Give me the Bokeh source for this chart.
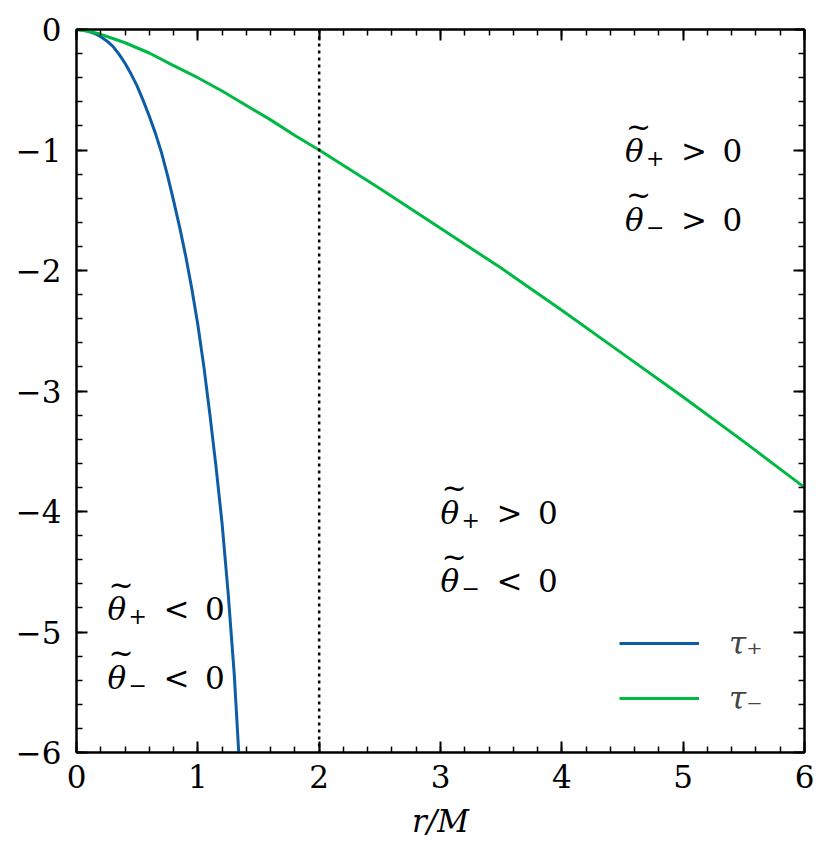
import numpy as np
from bokeh.plotting import figure
from bokeh.models import LinearAxis, FixedTicker, Span, Range1d, ColumnDataSource
from bokeh.core.properties import value
from bokeh.embed import file_html
from bokeh.resources import INLINE

# ---- data ----
r_plus = [0.0, 0.05, 0.1, 0.15, 0.2, 0.25, 0.3, 0.35, 0.4, 0.45, 0.5, 0.55, 0.6, 0.65,
          0.7, 0.75, 0.8, 0.85, 0.9, 0.95, 1.0, 1.05, 1.1, 1.15, 1.2, 1.25, 1.3, 1.34]
tau_plus = [0.0, -0.004, -0.015, -0.033, -0.06, -0.095, -0.14, -0.205, -0.28, -0.37,
            -0.47, -0.59, -0.72, -0.86, -1.02, -1.21, -1.42, -1.64, -1.88, -2.15, -2.45,
            -2.8, -3.2, -3.63, -4.1, -4.68, -5.35, -6.05]

r_minus = [0.0, 0.1, 0.2, 0.3, 0.4, 0.6, 0.8, 1.0, 1.2, 1.4, 1.6, 1.8, 2.0, 2.5, 3.0,
           3.5, 4.0, 4.5, 5.0, 5.5, 6.0]
tau_minus = [0.0, -0.015, -0.04, -0.075, -0.11, -0.195, -0.30, -0.40, -0.51, -0.63, -0.75,
             -0.88, -1.0, -1.32, -1.65, -1.98, -2.33, -2.69, -3.05, -3.42, -3.80]

horizon_r = 2.0

x_ticks = [0, 1, 2, 3, 4, 5, 6]
y_ticks = [-6, -5, -4, -3, -2, -1, 0]
y_tick_labels = {-6: "\u22126", -5: "\u22125", -4: "\u22124", -3: "\u22123",
                 -2: "\u22122", -1: "\u22121", 0: "0"}
minor_step = 0.2

ann_x = [4.52, 4.52, 3.0, 3.0, 0.256, 0.256]
ann_y = [-1.01, -1.58, -4.01, -4.58, -4.81, -5.38]
ann_sym = ["\u03b8"] * 6
ann_tilde = ["~"] * 6
ann_sub = ["+", "\u2212", "+", "\u2212", "+", "\u2212"]
ann_rel = [">\u20020", ">\u20020", ">\u20020", "<\u20020", "<\u20020", "<\u20020"]

legend_labels = ["\u03c4\u208a", "\u03c4\u208b"]

BLUE = "#0C5DA5"
GREEN = "#00B945"
FS = "31px"
FONT = "'DejaVu Serif'"

x_minor = [round(i * minor_step, 2) for i in range(int(6 / minor_step) + 1)]
y_minor = [round(-6 + i * minor_step, 2) for i in range(int(6 / minor_step) + 1)]

p = figure(width=825, height=860, output_backend="svg", toolbar_location=None,
           x_range=Range1d(0, 6), y_range=Range1d(-6, 0),
           min_border_left=76, min_border_right=21, min_border_top=29,
           min_border_bottom=108)
p.grid.visible = False
p.outline_line_color = "black"
p.outline_line_width = 2
p.background_fill_color = "white"
p.border_fill_color = "white"

xb = p.below[0]
yl = p.left[0]
xt = LinearAxis()
yr = LinearAxis()
p.add_layout(xt, "above")
p.add_layout(yr, "right")

for ax in (xb, xt):
    ax.ticker = FixedTicker(ticks=x_ticks, minor_ticks=x_minor)
for ax in (yl, yr):
    ax.ticker = FixedTicker(ticks=y_ticks, minor_ticks=y_minor)

for ax in (xb, xt, yl, yr):
    ax.axis_line_width = 2
    ax.axis_line_color = "black"
    ax.major_tick_in = 11
    ax.major_tick_out = 0
    ax.minor_tick_in = 6
    ax.minor_tick_out = 0
    ax.major_tick_line_width = 2
    ax.minor_tick_line_width = 1.5
    ax.major_label_text_font = FONT
    ax.major_label_text_font_size = FS
    ax.major_label_text_color = "black"

xb.major_label_standoff = 12
yl.major_label_standoff = 15
yl.major_label_overrides = y_tick_labels
xb.axis_label = "r/M"
xb.axis_label_text_font = FONT
xb.axis_label_text_font_size = FS
xb.axis_label_text_font_style = "italic"
xb.axis_label_text_color = "black"
xb.axis_label_standoff = 12

# mirrored axes: ticks only
xt.major_label_overrides = {t: "" for t in x_ticks}
yr.major_label_overrides = {t: "" for t in y_ticks}
xt.major_label_standoff = 0
yr.major_label_standoff = 0

p.line(r_plus, tau_plus, line_color=BLUE, line_width=3, legend_label=legend_labels[0])
p.line(r_minus, tau_minus, line_color=GREEN, line_width=3, legend_label=legend_labels[1])

p.add_layout(Span(location=horizon_r, dimension="height", line_color="black",
                  line_width=2.5, line_dash="3 4"))

src = ColumnDataSource(dict(x=ann_x, y=ann_y, sym=ann_sym, tilde=ann_tilde,
                            sub=ann_sub, rel=ann_rel))
p.text(x="x", y="y", text="sym", source=src, text_font=value(FONT),
       text_font_size=FS, text_font_style="italic", text_baseline="alphabetic",
       text_align="left", text_color="black")
p.text(x="x", y="y", text="tilde", source=src, text_font=value(FONT),
       text_font_size="30px", text_baseline="alphabetic", text_align="left",
       text_color="black", x_offset=1, y_offset=-25)
p.text(x="x", y="y", text="sub", source=src, text_font=value(FONT),
       text_font_size="22px", text_baseline="alphabetic", text_align="left",
       text_color="black", x_offset=21, y_offset=7)
p.text(x="x", y="y", text="rel", source=src, text_font=value(FONT),
       text_font_size=FS, text_baseline="alphabetic", text_align="left",
       text_color="black", x_offset=56)

lg = p.legend[0]
lg.location = (533, 24)
lg.background_fill_alpha = 0
lg.border_line_alpha = 0
lg.label_text_font = FONT
lg.label_text_font_size = FS
lg.label_text_font_style = "italic"
lg.glyph_width = 80
lg.glyph_height = 40
lg.label_height = 40
lg.label_standoff = 30
lg.spacing = 15
lg.margin = 0
lg.padding = 10

open("out.html", "w").write(file_html(p, INLINE))
